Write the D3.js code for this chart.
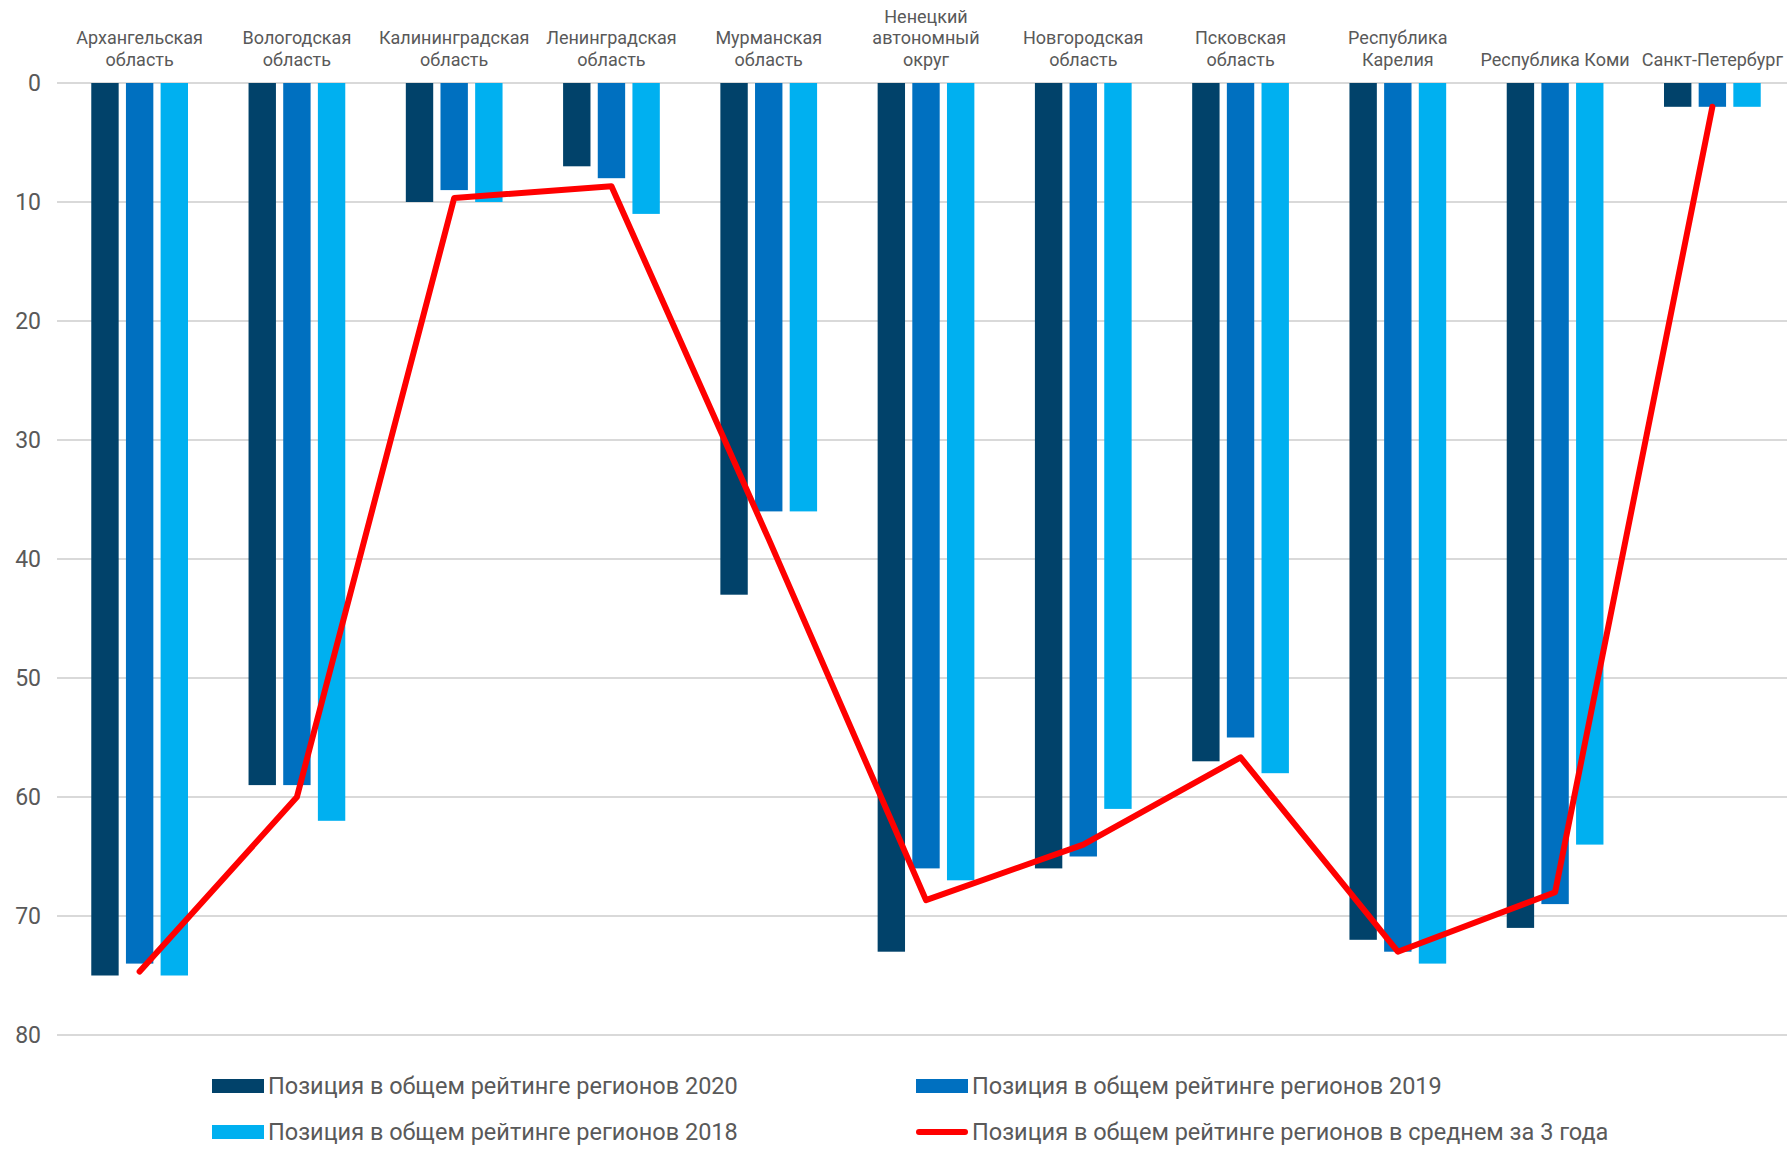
<!DOCTYPE html>
<html>
<head>
<meta charset="utf-8">
<script src="https://cdn.jsdelivr.net/npm/d3@7"></script>
<style>
  body { margin: 0; background: #fff; }
  text { font-family: Roboto, "Noto Sans", sans-serif; fill: #595959; }
</style>
</head>
<body>
<div class="chart"></div>
<script>
// data
const categories = ["Архангельская область", "Вологодская область", "Калининградская область",
  "Ленинградская область", "Мурманская область", "Ненецкий автономный округ",
  "Новгородская область", "Псковская область", "Республика Карелия",
  "Республика Коми", "Санкт-Петербург"];
const catLabels = [["Архангельская", "область"], ["Вологодская", "область"], ["Калининградская", "область"],
  ["Ленинградская", "область"], ["Мурманская", "область"], ["Ненецкий", "автономный", "округ"],
  ["Новгородская", "область"], ["Псковская", "область"], ["Республика", "Карелия"],
  ["Республика Коми"], ["Санкт-Петербург"]];
const rank2020 = [75, 59, 10, 7, 43, 73, 66, 57, 72, 71, 2];
const rank2019 = [74, 59, 9, 8, 36, 66, 65, 55, 73, 69, 2];
const rank2018 = [75, 62, 10, 11, 36, 67, 61, 58, 74, 64, 2];
const rankAvg = [74.67, 60, 9.67, 8.67, 38.33, 68.67, 64, 56.67, 73, 68, 2];
const yTicks = [0, 10, 20, 30, 40, 50, 60, 70, 80];
const seriesNames = ["Позиция в общем рейтинге регионов 2020", "Позиция в общем рейтинге регионов 2019",
  "Позиция в общем рейтинге регионов 2018", "Позиция в общем рейтинге регионов в среднем за 3 года"];
const colors = ["#01426a", "#0070c0", "#00b0f0", "#ff0000"];

const W = 1787, H = 1149;
const svg = d3.select(".chart").append("svg")
  .attr("width", W)
  .attr("height", H);

const y = d3.scaleLinear().domain([0, 80]).range([83, 1035]);
const x0 = d3.scaleBand().domain(categories).range([61, 1791])
  .paddingInner(0.385).paddingOuter(0.1925);
const x1 = d3.scaleBand().domain([0, 1, 2]).range([0, x0.bandwidth()]).paddingInner(0.21);

// gridlines
svg.append("g").selectAll("line")
  .data(yTicks)
  .enter()
  .append("line")
  .attr("x1", 57)
  .attr("x2", W)
  .attr("y1", d => y(d))
  .attr("y2", d => y(d))
  .style("stroke", "#d9d9d9")
  .style("stroke-width", 2);

// y axis labels
const yAxis = svg.append("g")
  .attr("transform", "translate(41,0)")
  .call(d3.axisLeft(y).tickValues(yTicks).tickSize(0).tickPadding(0));
yAxis.select(".domain").remove();
yAxis.selectAll("text")
  .attr("font-size", "23px")
  .style("font-family", "Roboto, 'Noto Sans', sans-serif")
  .attr("fill", "#595959");

// bars
const series = [rank2020, rank2019, rank2018];
const groups = svg.append("g").selectAll("g")
  .data(categories)
  .enter()
  .append("g")
  .attr("transform", d => "translate(" + x0(d) + ",0)");

groups.selectAll("rect")
  .data((d, i) => series.map((s, k) => ({k: k, v: s[i]})))
  .enter()
  .append("rect")
  .attr("x", d => x1(d.k))
  .attr("y", y(0))
  .attr("width", x1.bandwidth())
  .attr("height", d => y(d.v) - y(0))
  .style("fill", d => colors[d.k]);

// average line
const line = d3.line()
  .x((d, i) => x0(categories[i]) + x0.bandwidth() / 2)
  .y(d => y(d));

svg.append("path")
  .attr("d", line(rankAvg))
  .style("fill", "none")
  .style("stroke", colors[3])
  .style("stroke-width", 6)
  .style("stroke-linecap", "round")
  .style("stroke-linejoin", "round");

// category labels, bottom aligned above the zero line
const lineH = 21.7;
const catG = svg.append("g").selectAll("text")
  .data(catLabels)
  .enter()
  .append("text")
  .attr("text-anchor", "middle")
  .attr("font-size", "18px")
  .attr("x", (d, i) => x0(categories[i]) + x0.bandwidth() / 2)
  .attr("y", d => 66 - (d.length - 1) * lineH);
catG.selectAll("tspan")
  .data(d => d)
  .enter()
  .append("tspan")
  .attr("x", function() { return this.parentNode.getAttribute("x"); })
  .attr("dy", (d, i) => i === 0 ? 0 : lineH)
  .text(d => d);

// legend
const legendPos = [[212, 1086], [916, 1086], [212, 1132], [916, 1132]];
const legend = svg.append("g").selectAll("g")
  .data(seriesNames)
  .enter()
  .append("g")
  .attr("transform", (d, i) => "translate(" + legendPos[i][0] + "," + legendPos[i][1] + ")");

legend.each(function(d, i) {
  const g = d3.select(this);
  if (i < 3) {
    g.append("rect")
      .attr("x", 0)
      .attr("y", -7)
      .attr("width", 52)
      .attr("height", 14)
      .style("fill", colors[i]);
  } else {
    g.append("line")
      .attr("x1", 3)
      .attr("x2", 49)
      .attr("y1", 0)
      .attr("y2", 0)
      .style("stroke", colors[3])
      .style("stroke-width", 6)
      .style("stroke-linecap", "round");
  }
  g.append("text")
    .attr("x", 56)
    .attr("y", 0)
    .attr("dy", "0.35em")
    .attr("font-size", "23.5px")
    .text(d);
});
</script>
</body>
</html>
